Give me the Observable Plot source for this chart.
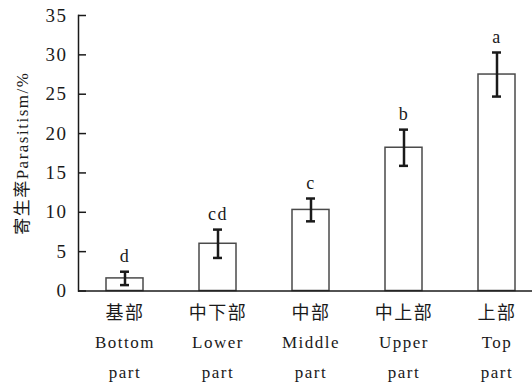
<!DOCTYPE html>
<html><head><meta charset="utf-8">
<script src="https://cdn.jsdelivr.net/npm/d3@7"></script>
<script src="https://cdn.jsdelivr.net/npm/@observablehq/plot@0.6"></script>
<style>
body{margin:0;background:#fff}
#chart svg{display:block}
#chart svg text{font-family:"Liberation Serif","Noto Sans CJK SC",serif; letter-spacing:1.5px}
</style>
</head><body><div id="chart"></div>
<script>
const categories = ["Bottom","Lower","Middle","Upper","Top"];
const labelsZh = ["基部","中下部","中部","中上部","上部"];
const labelsEn = ["Bottom","Lower","Middle","Upper","Top"];
const labelsEn2 = ["part","part","part","part","part"];
const means = [1.6, 6.0, 10.3, 18.2, 27.5];
const errors = [0.85, 1.8, 1.45, 2.3, 2.8];
const letters = ["d","cd","c","b","a"];
const yTicks = [0,5,10,15,20,25,30,35];
const yTitle = "寄生率Parasitism/%";

const data = categories.map((c,i)=>({cat:c, zh:labelsZh[i], en:labelsEn[i], en2:labelsEn2[i],
  mean:means[i], lo:means[i]-errors[i], hi:means[i]+errors[i], letter:letters[i]}));

const ink = "#1a1a1a";

const chart = Plot.plot({
  width: 532, height: 387,
  marginTop: 15, marginBottom: 96.5, marginLeft: 78, marginRight: 0,
  style: "background:#fff; color:#1a1a1a;",
  x: {domain: categories, range: [105.5, 516], paddingInner: 0.6, paddingOuter: 0, axis: null},
  y: {domain: [0, 35], axis: null},
  marks: [
    Plot.barY(data, {x: "cat", y: "mean", fill: "white", stroke: "#4a4a4a", strokeWidth: 1.5}),
    Plot.ruleX(data, {x: "cat", y1: "lo", y2: "hi", stroke: ink, strokeWidth: 2.5}),
    Plot.tickY(data, {x: "cat", y: "lo", insetLeft: 14, insetRight: 14, stroke: ink, strokeWidth: 2.5}),
    Plot.tickY(data, {x: "cat", y: "hi", insetLeft: 14, insetRight: 14, stroke: ink, strokeWidth: 2.5}),
    Plot.text(data, {x: "cat", y: "hi", text: "letter", dy: -15, fontSize: 18, fill: ink}),
    Plot.axisY(yTicks, {tickSize: -8, tickPadding: 19, fontSize: 19, strokeWidth: 1.5, stroke: ink, fill: ink}),
    Plot.frame({anchor: "left", stroke: ink, strokeWidth: 1.5}),
    Plot.ruleY([0], {stroke: ink, strokeWidth: 1.5}),
    Plot.text(data, {x: "cat", text: "zh", frameAnchor: "bottom", dy: 28, fontSize: 18, fill: ink}),
    Plot.text(data, {x: "cat", text: "en", frameAnchor: "bottom", dy: 57, fontSize: 17, fill: ink}),
    Plot.text(data, {x: "cat", text: "en2", frameAnchor: "bottom", dy: 87, fontSize: 17, fill: ink}),
    Plot.text([yTitle], {frameAnchor: "left", textAnchor: "middle", rotate: -90, dx: -56, fontSize: 17, fill: ink})
  ]
});
document.getElementById("chart").append(chart);
</script>
</body></html>
